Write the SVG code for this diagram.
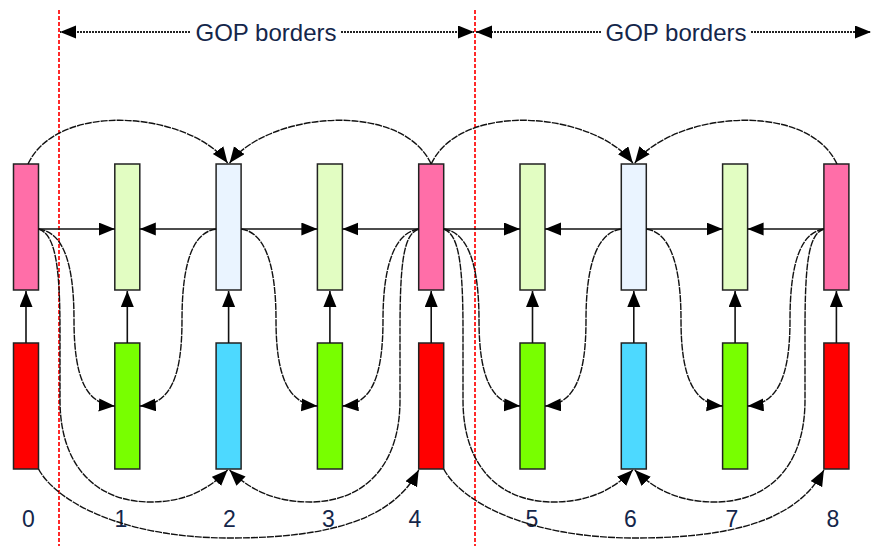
<svg xmlns="http://www.w3.org/2000/svg" width="872" height="546" viewBox="0 0 872 546">
<defs>
<marker id="ah" markerUnits="userSpaceOnUse" markerWidth="17" markerHeight="14" refX="16" refY="6.5" orient="auto">
<path d="M0,0 L16,6.5 L0,13 z" fill="#000"/>
</marker>
<style>
.n rect{stroke:#222;stroke-width:1.5}
.pk{fill:#ff6ea8}.lg{fill:#e2fdc2}.lb{fill:#eaf4ff}.rd{fill:#ff0000}.gr{fill:#78ff00}.cy{fill:#4dd9ff}
.s{fill:none;stroke:#111;stroke-width:1.6;marker-end:url(#ah)}
.d{fill:none;stroke:#111;stroke-width:1.4;stroke-dasharray:7 1;marker-end:url(#ah)}
.g{fill:none;stroke:#222;stroke-width:2;stroke-dasharray:2 1;marker-end:url(#ah)}
.border{stroke:#ff2a2a;stroke-width:2;stroke-dasharray:4 2}
text{font-family:"Liberation Sans",Arial,sans-serif;fill:#14264a}
.t{font-size:24px;text-anchor:middle}
.num{font-size:23px;text-anchor:middle}
</style>
</defs>
<g id="borders">
<line class="border" x1="59" y1="10" x2="59" y2="546"/>
<line class="border" x1="475" y1="10" x2="475" y2="546"/>
</g>
<g id="gop">
<text class="t" x="266" y="41">GOP borders</text>
<text class="t" x="676" y="41">GOP borders</text>
</g>
<g id="t0" class="n"><rect class="pk" x="13.5" y="164" width="25" height="126"/></g>
<g id="t1" class="n"><rect class="lg" x="114.8" y="164" width="25" height="126"/></g>
<g id="t2" class="n"><rect class="lb" x="216.1" y="164" width="25" height="126"/></g>
<g id="t3" class="n"><rect class="lg" x="317.4" y="164" width="25" height="126"/></g>
<g id="t4" class="n"><rect class="pk" x="418.7" y="164" width="25" height="126"/></g>
<g id="t5" class="n"><rect class="lg" x="520" y="164" width="25" height="126"/></g>
<g id="t6" class="n"><rect class="lb" x="621.3" y="164" width="25" height="126"/></g>
<g id="t7" class="n"><rect class="lg" x="722.6" y="164" width="25" height="126"/></g>
<g id="t8" class="n"><rect class="pk" x="823.9" y="164" width="25" height="126"/></g>
<g id="b0" class="n"><rect class="rd" x="13.5" y="343" width="25" height="126"/></g>
<g id="b1" class="n"><rect class="gr" x="114.8" y="343" width="25" height="126"/></g>
<g id="b2" class="n"><rect class="cy" x="216.1" y="343" width="25" height="126"/></g>
<g id="b3" class="n"><rect class="gr" x="317.4" y="343" width="25" height="126"/></g>
<g id="b4" class="n"><rect class="rd" x="418.7" y="343" width="25" height="126"/></g>
<g id="b5" class="n"><rect class="gr" x="520" y="343" width="25" height="126"/></g>
<g id="b6" class="n"><rect class="cy" x="621.3" y="343" width="25" height="126"/></g>
<g id="b7" class="n"><rect class="gr" x="722.6" y="343" width="25" height="126"/></g>
<g id="b8" class="n"><rect class="rd" x="823.9" y="343" width="25" height="126"/></g>
<g id="labels">
<text class="num" x="28.5" y="527">0</text>
<text class="num" x="121" y="527">1</text>
<text class="num" x="229.5" y="527">2</text>
<text class="num" x="328.5" y="527">3</text>
<text class="num" x="415" y="527">4</text>
<text class="num" x="532" y="527">5</text>
<text class="num" x="630.5" y="527">6</text>
<text class="num" x="732" y="527">7</text>
<text class="num" x="833" y="527">8</text>
</g>
<g id="connectors">
<path class="g" d="M190,32 L60,32"/>
<path class="g" d="M341,32 L474,32"/>
<path class="g" d="M601,32 L476,32"/>
<path class="g" d="M751,32 L871,32"/>
<path class="s" d="M26,343 L26,291"/>
<path class="s" d="M127.3,343 L127.3,291"/>
<path class="s" d="M228.6,343 L228.6,291"/>
<path class="s" d="M329.9,343 L329.9,291"/>
<path class="s" d="M431.2,343 L431.2,291"/>
<path class="s" d="M532.5,343 L532.5,291"/>
<path class="s" d="M633.8,343 L633.8,291"/>
<path class="s" d="M735.1,343 L735.1,291"/>
<path class="s" d="M836.4,343 L836.4,291"/>
<path class="s" d="M38.5,229 L114.8,229"/>
<path class="s" d="M216.1,229 L139.8,229"/>
<path class="s" d="M241.1,229 L317.4,229"/>
<path class="s" d="M418.7,229 L342.4,229"/>
<path class="s" d="M443.7,229 L520,229"/>
<path class="s" d="M621.3,229 L545,229"/>
<path class="s" d="M646.3,229 L722.6,229"/>
<path class="s" d="M823.9,229 L747.6,229"/>
<path class="d" d="M28,164 C58,100 190,112 227.6,163"/>
<path class="d" d="M431.2,164 C401,100 268,112 229.6,163"/>
<path class="d" d="M431.2,164 C461,100 594,112 632.8,163"/>
<path class="d" d="M837,164 C807,100 674,112 634.8,163"/>
<path class="d" d="M38.5,229 C62,232 74,260 74,320 C74,378 86,404 114.8,406"/>
<path class="d" d="M38.5,229 C54,234 60,260 60,330 L60,400 C60,470 100,502 150,502 C185,502 208,490 227.6,470"/>
<path class="d" d="M216.1,229 C194,232 182,260 182,320 C182,378 170,404 139.8,406"/>
<path class="d" d="M241.1,229 C263,232 276,260 276,320 C276,378 289,404 317.4,406"/>
<path class="d" d="M418.7,229 C397,232 383,260 383,320 C383,378 371,404 342.4,406"/>
<path class="d" d="M418.7,229 C404,234 400,260 400,330 L400,400 C400,470 360,502 310,502 C275,502 250,490 229.6,470"/>
<path class="d" d="M443.7,229 C458,234 463,260 463,330 L463,400 C463,470 503,502 553,502 C588,502 613,490 632.8,470"/>
<path class="d" d="M443.7,229 C466,232 479,260 479,320 C479,378 492,404 520,406"/>
<path class="d" d="M621.3,229 C599,232 586,260 586,320 C586,378 574,404 545,406"/>
<path class="d" d="M646.3,229 C668,232 681,260 681,320 C681,378 694,404 722.6,406"/>
<path class="d" d="M823.9,229 C802,232 790,260 790,320 C790,378 777,404 747.6,406"/>
<path class="d" d="M823.9,229 C809,234 805,260 805,330 L805,400 C805,470 765,502 715,502 C680,502 655,490 634.8,470"/>
<path class="d" d="M38.5,469 C55,500 120,538 230,538 C340,538 395,515 418.7,470"/>
<path class="d" d="M443.7,469 C460,500 525,538 635,538 C745,538 800,515 823.9,470"/>
</g>
</svg>
